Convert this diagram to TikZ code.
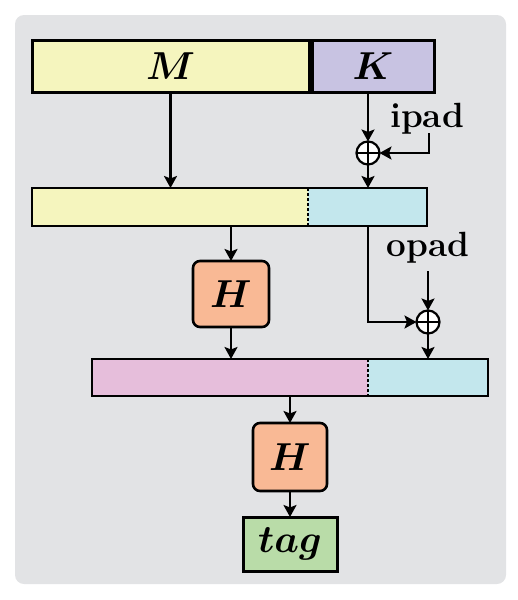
\RequirePackage{fix-cm}
\documentclass[tikz,border=0pt]{standalone}
\usepackage{bm}
\usetikzlibrary{arrows.meta}
\definecolor{bgc}{HTML}{E2E3E5}
\definecolor{yel}{HTML}{F5F5BE}
\definecolor{pur}{HTML}{C8C3E2}
\definecolor{cya}{HTML}{C3E7ED}
\definecolor{pnk}{HTML}{E6BEDB}
\definecolor{org}{HTML}{F9B995}
\definecolor{grn}{HTML}{B9DCA8}
\tikzset{
  box/.style={draw=black, line width=3pt, inner sep=0pt, outer sep=0pt, font=\fontsize{39}{41}\selectfont},
  bar/.style={draw=black, line width=2.4pt, inner sep=0pt, outer sep=0pt},
  hbox/.style={box, line width=2.6pt, rounded corners=7pt, fill=org, minimum width=76pt},
  arr/.style={line width=2.2pt, -{Stealth[length=12pt,width=13pt,inset=2.5pt]}},
  xorn/.style={circle, draw=black, line width=2.2pt, fill=white, minimum size=23pt, inner sep=0pt, outer sep=0pt,
    path picture={\draw[line width=1.6pt] (path picture bounding box.north) -- (path picture bounding box.south)
      (path picture bounding box.west) -- (path picture bounding box.east);}},
  lbl/.style={font=\fontsize{35}{37}\selectfont\bfseries, inner sep=0pt, anchor=base},
  divd/.style={line width=1.4pt, dash pattern=on 3pt off 2pt}
}
\begin{document}
\begin{tikzpicture}[x=1pt,y=-1pt]
\useasboundingbox (0,0) rectangle (518,600);
\fill[bgc, rounded corners=9pt] (15,15) rectangle (506,584);

\node[box, fill=yel, minimum width=277pt, minimum height=52pt] (M) at (170.5,66) {$\bm{M}$};
\node[box, fill=pur, minimum width=122pt, minimum height=52pt] (K) at (373,66) {$\bm{K}$};

\node[bar, fill=yel, minimum width=395pt, minimum height=38pt] (bar1) at (229.5,207) {};
\fill[cya] (308,188) rectangle (427,226);
\draw[bar] (bar1.north west) rectangle (bar1.south east);
\coordinate (d1) at (308,207);
\draw[divd] (d1 |- bar1.north) -- (d1 |- bar1.south);

\node[bar, fill=pnk, minimum width=396pt, minimum height=37pt] (bar2) at (290,377.5) {};
\fill[cya] (368,359) rectangle (488,396);
\draw[bar] (bar2.north west) rectangle (bar2.south east);
\coordinate (d2) at (368,377);
\draw[divd] (d2 |- bar2.north) -- (d2 |- bar2.south);

\node[xorn] (x1) at (368,153) {};
\node[xorn] (x2) at (428,322) {};

\node[lbl] (ipad) at (427,127) {ipad};
\node[lbl] (opad) at (428,256) {opad};
\coordinate (ip) at (429,133);
\coordinate (op) at (428,271);

\node[hbox, minimum height=66pt] (H1) at (231,294) {$\bm{H}$};
\node[hbox, minimum width=74pt, minimum height=68pt] (H2) at (290,457) {$\bm{H}$};
\node[box, fill=grn, minimum width=94pt, minimum height=54pt] (tag) at (290,544) {$\bm{tag}$};

\draw[arr] (M.south) -- (M.south |- bar1.north);
\draw[arr] (x1 |- K.south) -- (x1.north);
\draw[arr] (ip) |- (x1.east);
\draw[arr] (x1.south) -- (x1 |- bar1.north);
\draw[arr] (H1 |- bar1.south) -- (H1.north);
\draw[arr] (H1.south) -- (H1 |- bar2.north);
\draw[arr] (x1 |- bar1.south) |- (x2.west);
\draw[arr] (op) -- (x2.north);
\draw[arr] (x2.south) -- (x2 |- bar2.north);
\draw[arr] (H2 |- bar2.south) -- (H2.north);
\draw[arr] (H2.south) -- (tag.north);
\end{tikzpicture}
\end{document}
